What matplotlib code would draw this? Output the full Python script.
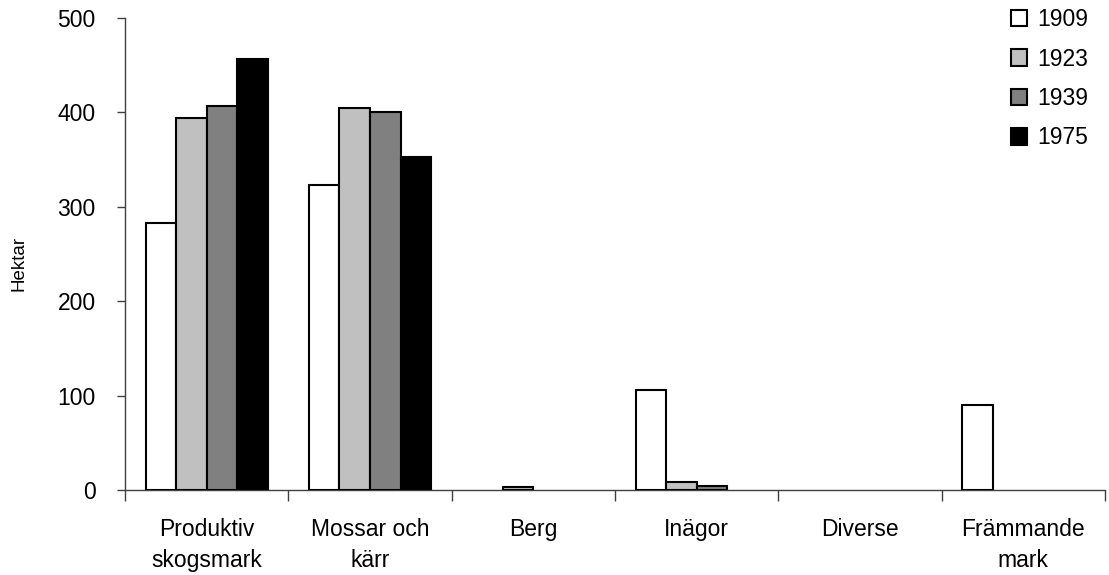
import matplotlib
matplotlib.use("Agg")
import matplotlib.pyplot as plt
import numpy as np

categories = ["Produktiv\nskogsmark", "Mossar och\nkärr", "Berg", "Inägor", "Diverse", "Främmande\nmark"]
years = ["1909", "1923", "1939", "1975"]
v1909 = [283, 323, 0, 106, 0, 90]
v1923 = [394, 405, 3, 9, 0, 0]
v1939 = [407, 400, 0, 4, 0, 0]
v1975 = [457, 353, 0, 0, 0, 0]
series = [v1909, v1923, v1939, v1975]
colors = ["#FFFFFF", "#C0C0C0", "#808080", "#000000"]
yticks = [0, 100, 200, 300, 400, 500]

plt.rcParams['font.family'] = ['Liberation Sans', 'DejaVu Sans']

fig = plt.figure(figsize=(11.09, 5.75), dpi=100)
ax = fig.add_axes([125/1109, 1-490/575, (1105-125)/1109, (490-18)/575])

x = np.arange(len(categories))
w = 0.187
for i, (vals, c, yr) in enumerate(zip(series, colors, years)):
    lws = [1.5 if v > 0 else 0 for v in vals]
    ax.bar(x + (i - 1.5) * w, vals, width=w, color=c, edgecolor="black",
           linewidth=lws, label=yr, zorder=3)

ax.set_xlim(-0.5, len(categories) - 0.5)
ax.set_ylim(0, 500)
ax.set_yticks(yticks)
ax.tick_params(axis='y', labelsize=16.5, length=6, width=1, color="#404040", pad=15)
ax.set_xticks(np.arange(len(categories) + 1) - 0.5)
ax.set_xticklabels([])
ax.tick_params(axis='x', which='major', length=8, width=1, color="#404040")
ax.set_xticks(x, minor=True)
ax.set_xticklabels(categories, minor=True, fontsize=16.5, linespacing=1.45)
ax.tick_params(axis='x', which='minor', length=0, pad=20)

for s in ["top", "right"]:
    ax.spines[s].set_visible(False)
for s in ["left", "bottom"]:
    ax.spines[s].set_color("#404040")
    ax.spines[s].set_linewidth(1)

ax.set_ylabel("Hektar", fontsize=13.5)
ax.yaxis.set_label_coords(-0.099, 0.479)

leg = ax.legend(loc="upper left", bbox_to_anchor=(1011/1109, 1 - 8/575),
                bbox_transform=fig.transFigure, frameon=False, fontsize=16.5,
                handlelength=0.7, handleheight=0.7, handletextpad=0.45,
                labelspacing=0.72, borderpad=0, borderaxespad=0)
for p in leg.get_patches():
    p.set_linewidth(1.5)

fig.savefig("out.png", dpi=100)
